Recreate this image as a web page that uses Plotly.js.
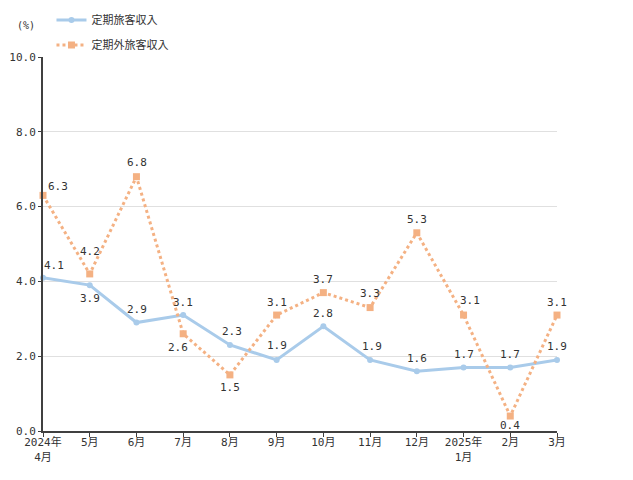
<!DOCTYPE html>
<html>
<head>
<meta charset="utf-8">
<script src="https://cdn.plot.ly/plotly-3.0.1.min.js"></script>
<style>
  html, body { margin: 0; padding: 0; background: #fff; }
  #chart { width: 633px; height: 480px; }
</style>
</head>
<body>
<div id="chart"></div>
<script>
const months = ["2024年<br>4月", "5月", "6月", "7月", "8月", "9月", "10月", "11月", "12月", "2025年<br>1月", "2月", "3月"];
const teikiValues = [4.1, 3.9, 2.9, 3.1, 2.3, 1.9, 2.8, 1.9, 1.6, 1.7, 1.7, 1.9];
const teikigaiValues = [6.3, 4.2, 6.8, 2.6, 1.5, 3.1, 3.7, 3.3, 5.3, 3.1, 0.4, 3.1];

// label placement [dx, dy] in px, relative to each point
const teikiShift = [[11, 12], [0, -13], [1, 13], [0, 13], [2, 13], [0, 14],
  [0, 13], [2, 13], [0, 13], [0, 13], [0, 13], [0, 13]];
const teikigaiShift = [[15, 9], [0, 22], [1, 14], [-5, -14], [0, -13], [0, 13],
  [0, 13], [0, 14], [0, 13], [6, 15], [0, -9], [0, 13]];

const FONT = "DejaVu Sans Mono, Noto Sans CJK JP, sans-serif";
const BLUE = "#A9CBEA";
const ORANGE = "#F4B183";
const xIdx = months.map((_, i) => i);

function labels(values, shifts) {
  return values.map((v, i) => ({
    x: i,
    y: v,
    xref: "x",
    yref: "y",
    text: v.toFixed(1),
    showarrow: false,
    xshift: shifts[i][0],
    yshift: shifts[i][1],
    font: { family: FONT, size: 11, color: "#333" },
  }));
}

const traces = [
  {
    name: "定期旅客収入",
    legendgroup: "a",
    type: "scatter",
    mode: "lines+markers",
    x: xIdx,
    y: teikiValues,
    line: { color: BLUE, width: 3 },
    marker: { color: BLUE, size: 6, symbol: "circle" },
    cliponaxis: false,
  },
  {
    name: "定期外旅客収入",
    legendgroup: "b",
    type: "scatter",
    mode: "lines+markers",
    x: xIdx,
    y: teikigaiValues,
    line: { color: ORANGE, width: 3, dash: "dot" },
    marker: { color: ORANGE, size: 7, symbol: "square" },
    cliponaxis: false,
  },
];

const layout = {
  width: 633,
  height: 480,
  margin: { l: 43, r: 76, t: 57, b: 49, autoexpand: false },
  paper_bgcolor: "#fff",
  plot_bgcolor: "#fff",
  font: { family: FONT, size: 11, color: "#333" },
  showlegend: true,
  legend: {
    x: 0.0165,
    y: 1.138,
    xanchor: "left",
    yanchor: "top",
    traceorder: "grouped",
    tracegroupgap: 6,
    itemwidth: 30,
    font: { family: FONT, size: 11, color: "#333" },
    bgcolor: "rgba(0,0,0,0)",
  },
  xaxis: {
    range: [0, 11],
    tickmode: "array",
    tickvals: xIdx,
    ticktext: months,
    ticks: "outside",
    ticklen: 4,
    ticklabelstandoff: -4,
    tickcolor: "#404040",
    showline: true,
    linecolor: "#404040",
    linewidth: 2,
    showgrid: false,
    zeroline: false,
    fixedrange: true,
    automargin: false,
  },
  yaxis: {
    range: [0, 10],
    dtick: 2,
    tickformat: ".1f",
    ticks: "outside",
    ticklen: 3,
    tickcolor: "#404040",
    showline: true,
    linecolor: "#404040",
    linewidth: 2,
    gridcolor: "#e0e0e0",
    zeroline: false,
    fixedrange: true,
    automargin: false,
  },
  annotations: [
    {
      text: "(%)",
      xref: "paper",
      yref: "paper",
      x: -0.033,
      y: 1.085,
      xanchor: "center",
      yanchor: "middle",
      showarrow: false,
      font: { family: FONT, size: 10, color: "#333" },
    },
    ...labels(teikiValues, teikiShift),
    ...labels(teikigaiValues, teikigaiShift),
  ],
};

Plotly.newPlot("chart", traces, layout, { displayModeBar: false, staticPlot: true });
</script>
</body>
</html>
